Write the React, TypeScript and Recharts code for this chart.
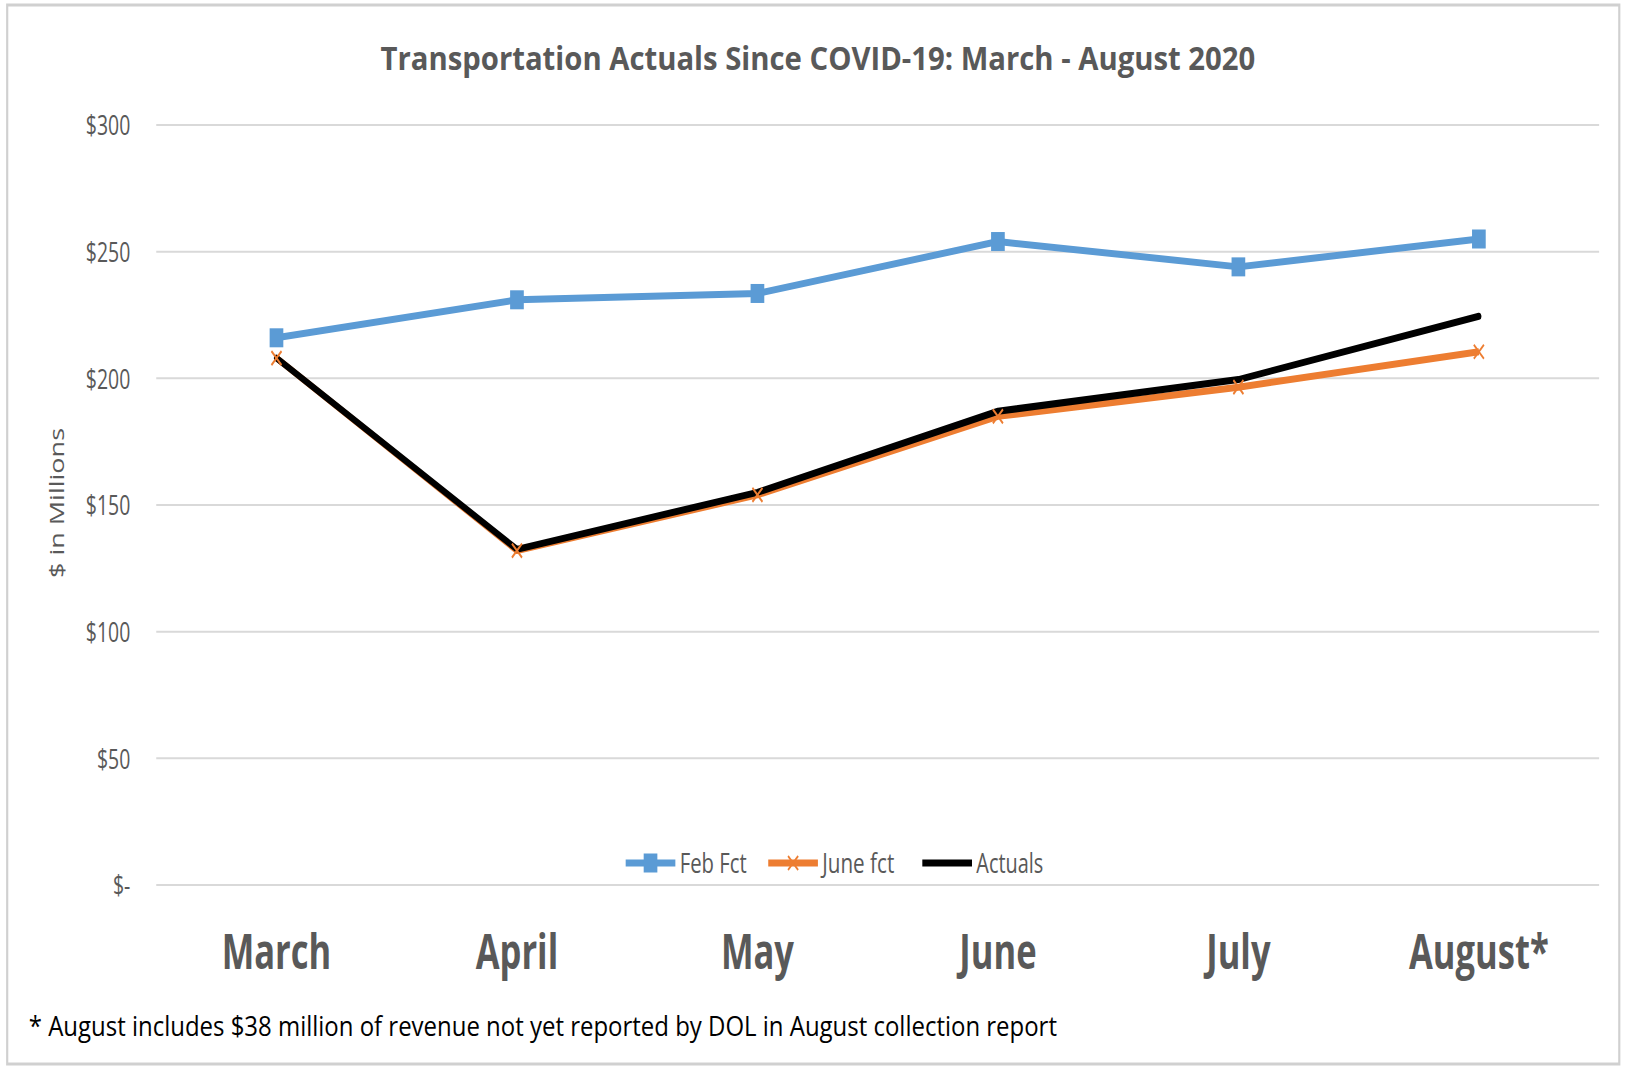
import React from 'react';
import { LineChart, Line, XAxis, YAxis, CartesianGrid } from 'recharts';

// ---- data ----
const months = ['March', 'April', 'May', 'June', 'July', 'August*'];
const febFct = [216, 231, 233.5, 254, 244, 255];
const juneFct = [208, 132, 154, 185, 196.5, 210.5];
const actuals = [208, 132.5, 155, 187, 199.5, 224.5];
const yTicks = [0, 50, 100, 150, 200, 250, 300];

const titleText = 'Transportation Actuals Since COVID-19: March - August 2020';
const footnoteText = '* August includes $38 million of revenue not yet reported by DOL in August collection report';
const yAxisTitle = '$ in Millions';

const data = months.map((m, i) => ({
  month: m,
  feb: febFct[i],
  june: juneFct[i],
  actual: actuals[i],
}));

// ---- layout / style ----
const OUT_W = 1628;
const OUT_H = 1067;
const SX = 0.72; // reference is horizontally condensed
const W = Math.round(OUT_W / SX);
const FONT = "'Open Sans', 'Noto Sans', sans-serif";
const GRAY = '#595959';
const BLUE = '#5B9BD5';
const ORANGE = '#ED7D31';
const BLACK = '#000000';

const fmtY = (v: number) => (v === 0 ? '$-' : `$${v}`);

const SquareDot = (props: any) => {
  const { cx, cy } = props;
  if (cx == null || cy == null) return null;
  return <rect x={cx - 9.5} y={cy - 9.5} width={19} height={19} fill={BLUE} />;
};

const CrossDot = (props: any) => {
  const { cx, cy } = props;
  if (cx == null || cy == null) return null;
  const s = 7;
  return (
    <g stroke={ORANGE} strokeWidth={2.4}>
      <line x1={cx - s} y1={cy - s} x2={cx + s} y2={cy + s} />
      <line x1={cx - s} y1={cy + s} x2={cx + s} y2={cy - s} />
    </g>
  );
};

const YTick = (props: any) => {
  const { x, y, payload } = props;
  return (
    <text x={x} y={y} textAnchor="end" dominantBaseline="central" fontFamily={FONT} fontSize={27} fill={GRAY}>
      {fmtY(payload.value)}
    </text>
  );
};

const XTick = (props: any) => {
  const { x, y, payload } = props;
  return (
    <text x={x} y={y + 84} textAnchor="middle" fontFamily={FONT} fontWeight={700} fontSize={48} fill={GRAY}>
      {payload.value}
    </text>
  );
};

const legendItems = [
  { label: 'Feb Fct', color: BLUE, marker: 'square', x: 869, textLen: 93 },
  { label: 'June fct', color: ORANGE, marker: 'cross', x: 1067, textLen: 100 },
  { label: 'Actuals', color: BLACK, marker: 'none', x: 1281, textLen: 93 },
];

export default function App() {
  return (
    <div
      style={{
        position: 'absolute',
        left: 0,
        top: 0,
        width: OUT_W,
        height: OUT_H,
        overflow: 'hidden',
        background: '#ffffff',
      }}
    >
      <div
        style={{
          position: 'relative',
          width: W,
          height: OUT_H,
          transform: `scaleX(${SX})`,
          transformOrigin: '0 0',
        }}
      >
        <LineChart
          width={W}
          height={OUT_H}
          data={data}
          margin={{ top: 125, right: 40, bottom: 122, left: 97 }}
        >
          <CartesianGrid vertical={false} stroke="#d9d9d9" strokeWidth={2} />
          <XAxis
            dataKey="month"
            scale="band"
            axisLine={false}
            tickLine={false}
            tickSize={0}
            tickMargin={0}
            height={60}
            interval={0}
            tick={<XTick />}
          />
          <YAxis
            domain={[0, 300]}
            ticks={yTicks}
            axisLine={false}
            tickLine={false}
            tickSize={0}
            tickMargin={36}
            width={120}
            interval={0}
            tick={<YTick />}
          />
          <Line
            dataKey="feb"
            type="linear"
            stroke={BLUE}
            strokeWidth={7}
            strokeLinejoin="round"
            dot={(p: any) => <SquareDot key={`f${p.index}`} {...p} />}
            isAnimationActive={false}
          />
          <Line
            dataKey="june"
            type="linear"
            stroke={ORANGE}
            strokeWidth={7}
            strokeLinejoin="round"
            dot={(p: any) => <CrossDot key={`j${p.index}`} {...p} />}
            isAnimationActive={false}
          />
          <Line
            dataKey="actual"
            type="linear"
            stroke={BLACK}
            strokeWidth={7}
            strokeLinejoin="round"
            strokeLinecap="round"
            dot={false}
            isAnimationActive={false}
          />
        </LineChart>
        <svg
          width={W}
          height={OUT_H}
          style={{ position: 'absolute', left: 0, top: 0, pointerEvents: 'none' }}
        >
          <rect x={10} y={5} width={W - 22} height={OUT_H - 8} fill="none" stroke="#d0d0d0" strokeWidth={3} />
          <text
            x={1136}
            y={70}
            textAnchor="middle"
            fontFamily={FONT}
            fontWeight={700}
            fontSize={33}
            fill={GRAY}
            textLength={1215}
            lengthAdjust="spacingAndGlyphs"
          >
            {titleText}
          </text>
          <text
            transform="translate(79,503) rotate(-90)"
            textAnchor="middle"
            dominantBaseline="central"
            fontFamily={FONT}
            fontSize={27}
            fill={GRAY}
          >
            {yAxisTitle}
          </text>
          {legendItems.map((it) => (
            <g key={it.label}>
              <line x1={it.x} y1={863} x2={it.x + 69} y2={863} stroke={it.color} strokeWidth={7} />
              {it.marker === 'square' && <SquareDot cx={it.x + 34.5} cy={863} />}
              {it.marker === 'cross' && <CrossDot cx={it.x + 34.5} cy={863} />}
              <text
                x={it.x + 75}
                y={863}
                dominantBaseline="central"
                fontFamily={FONT}
                fontSize={27}
                fill={GRAY}
                textLength={it.textLen}
                lengthAdjust="spacingAndGlyphs"
              >
                {it.label}
              </text>
            </g>
          ))}
          <text
            x={40}
            y={1036}
            fontFamily={FONT}
            fontSize={28}
            fill="#000000"
            textLength={1428}
            lengthAdjust="spacingAndGlyphs"
          >
            {footnoteText}
          </text>
        </svg>
      </div>
    </div>
  );
}
